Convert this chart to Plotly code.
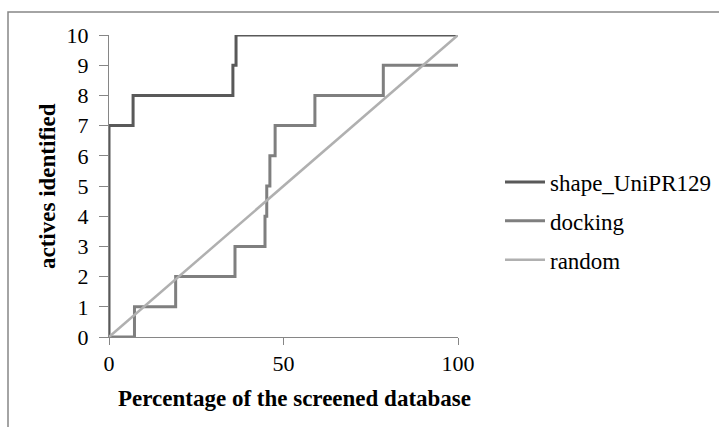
import plotly.graph_objects as go

# Data (percentage of screened database, actives identified)
shape_x = [0, 0, 6.9, 6.9, 35.5, 35.5, 36.4, 36.4, 100]
shape_y = [0, 7, 7, 8, 8, 9, 9, 10, 10]

dock_x = [0, 7.3, 7.3, 19.1, 19.1, 36.1, 36.1, 44.7, 44.7, 45.2, 45.2, 46.1, 46.1, 47.6, 47.6, 59.0, 59.0, 78.6, 78.6, 100]
dock_y = [0, 0, 1, 1, 2, 2, 3, 3, 4, 4, 5, 5, 6, 6, 7, 7, 8, 8, 9, 9]

rand_x = [0, 100]
rand_y = [0, 10]

names = ["shape_UniPR129", "docking", "random"]
colors = ["#595959", "#7f7f7f", "#b0b0b0"]

FONT = "Liberation Serif"

fig = go.Figure()
for nm, xs, ys, c, w in [(names[0], shape_x, shape_y, colors[0], 3),
                         (names[1], dock_x, dock_y, colors[1], 3),
                         (names[2], rand_x, rand_y, colors[2], 2.5)]:
    fig.add_trace(go.Scatter(x=xs, y=ys, mode="lines", name=nm, legendgroup=nm,
                             line=dict(color=c, width=w), cliponaxis=False))

W, H = 719, 427
L, R, T, B = 109, 261, 35, 90
pw, ph = W - L - R, H - T - B

def px2x(p):
    return (p - L) / pw

def px2y(p):
    return (H - B - p) / ph

fig.update_layout(
    width=W, height=H,
    margin=dict(l=L, r=R, t=T, b=B, pad=0, autoexpand=False),
    paper_bgcolor="white", plot_bgcolor="white",
    font=dict(family=FONT, size=22, color="black"),
    showlegend=True,
    legend=dict(x=px2x(500), y=px2y(221), xanchor="left", yanchor="middle",
                font=dict(family=FONT, size=23, color="black"),
                bgcolor="rgba(0,0,0,0)", itemwidth=40, tracegroupgap=6,
                traceorder="grouped"),
    xaxis=dict(range=[0, 100], tickvals=[0, 50, 100], showgrid=False, zeroline=False,
               showline=True, linecolor="#868686", linewidth=1,
               ticks="outside", ticklen=7, tickcolor="#868686",
               tickfont=dict(family=FONT, size=22, color="black")),
    yaxis=dict(range=[0, 10], tickvals=list(range(11)), showgrid=False, zeroline=False,
               showline=True, linecolor="#868686", linewidth=1,
               ticks="outside", ticklen=9, tickcolor="#868686", ticklabelstandoff=6,
               tickfont=dict(family=FONT, size=22, color="black")),
    shapes=[dict(type="rect", xref="paper", yref="paper",
                 x0=px2x(8), y0=px2y(440), x1=px2x(740), y1=px2y(12),
                 line=dict(color="#868686", width=1.5), fillcolor="rgba(0,0,0,0)",
                 layer="below")],
    annotations=[
        dict(text="<b>Percentage of the screened database</b>", xref="paper", yref="paper",
             x=px2x(294.5), y=px2y(398), xanchor="center", yanchor="middle",
             showarrow=False, font=dict(family=FONT, size=23, color="black")),
        dict(text="<b>actives identified</b>", xref="paper", yref="paper",
             x=px2x(47), y=px2y(186), xanchor="center", yanchor="middle", textangle=-90,
             showarrow=False, font=dict(family=FONT, size=23, color="black")),
    ],
)

fig.write_html("out.html")
